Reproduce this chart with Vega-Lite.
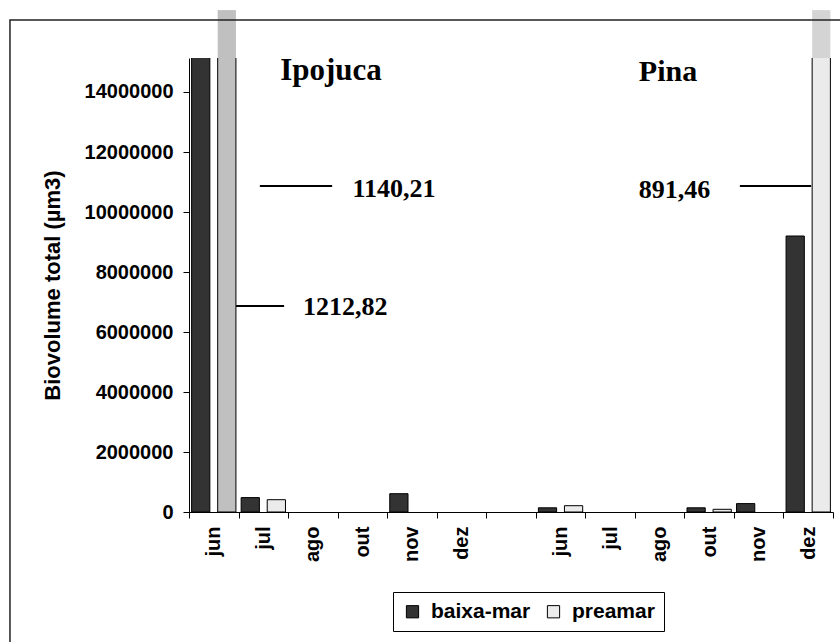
{
  "$schema": "https://vega.github.io/schema/vega-lite/v6.json",
  "width": 644,
  "height": 454,
  "autosize": {"type": "none"},
  "padding": {"left": 189, "top": 58, "right": 7, "bottom": 130},
  "background": "white",
  "config": {"view": {"stroke": null}, "font": "Liberation Sans"},
  "datasets": {
    "bars": [
      {"cat": "I-jun", "serie": "baixa-mar", "v": 1140210000},
      {"cat": "I-jun", "serie": "preamar", "v": 1212820000},
      {"cat": "I-jul", "serie": "baixa-mar", "v": 480000},
      {"cat": "I-jul", "serie": "preamar", "v": 410000},
      {"cat": "I-nov", "serie": "baixa-mar", "v": 610000},
      {"cat": "P-jun", "serie": "baixa-mar", "v": 140000},
      {"cat": "P-jun", "serie": "preamar", "v": 210000},
      {"cat": "P-out", "serie": "baixa-mar", "v": 140000},
      {"cat": "P-out", "serie": "preamar", "v": 90000},
      {"cat": "P-nov", "serie": "baixa-mar", "v": 280000},
      {"cat": "P-dez", "serie": "baixa-mar", "v": 9200000},
      {"cat": "P-dez", "serie": "preamar", "v": 891460000}
    ],
    "breaks": [
      {"cat": "I-jun", "serie": "preamar", "from": 15133333, "to": 16730000},
      {"cat": "P-dez", "serie": "preamar", "from": 15133333, "to": 16730000}
    ],
    "notes": [
      {"id": "ipo", "label": "Ipojuca", "c1": "I-jul", "ly": 14400000},
      {"id": "pina", "label": "Pina", "c1": "P-ago", "ly": 14370000},
      {"id": "n891", "label": "891,46", "c1": "P-ago", "ly": 10470000},
      {"id": "n1140", "label": "1140,21", "c1": "I-out", "ly": 10500000},
      {"id": "n1212", "label": "1212,82", "c1": "I-ago", "ly": 6570000}
    ],
    "lines": [
      {"id": "l1140", "c1": "I-jul", "c2": "I-ago", "ly": 10870000},
      {"id": "l1212", "c1": "I-jun", "c2": "I-jul", "ly": 6870000},
      {"id": "l891", "c1": "P-nov", "c2": "P-dez", "ly": 10870000}
    ],
    "frame": [
      {"fx": -0.278, "fx2": 1.03, "fy": 16400000, "fy2": -5000000}
    ]
  },
  "resolve": {"scale": {"x": "independent"}, "axis": {"x": "independent", "y": "independent"}},
  "layer": [
    {
      "layer": [
        {
          "data": {"name": "bars"},
          "mark": {"type": "bar", "stroke": "black", "strokeWidth": 1, "clip": true},
          "encoding": {
            "x": {
              "field": "cat", "type": "nominal", "sort": null,
              "scale": {"domain": ["I-jun","I-jul","I-ago","I-out","I-nov","I-dez","gap","P-jun","P-jul","P-ago","P-out","P-nov","P-dez"], "paddingInner": 0, "paddingOuter": 0},
              "axis": {
                "title": null,
                "labelExpr": "datum.label == 'gap' ? '' : slice(datum.label, 2)",
                "labelAngle": -90,
                "labelFont": "Liberation Sans",
                "labelFontWeight": "bold",
                "labelFontSize": 20,
                "labelColor": "black",
                "tickBand": "extent",
                "tickColor": "black",
                "tickSize": 6,
                "domainColor": "black",
                "labelPadding": 8,
                "grid": false
              }
            },
            "xOffset": {
              "field": "serie", "type": "nominal",
              "scale": {"domain": ["baixa-mar", "preamar"], "paddingInner": 0.3, "paddingOuter": 0.1}
            },
            "y": {
              "field": "v", "type": "quantitative",
              "scale": {"domain": [0, 15133333], "nice": false, "zero": true},
              "axis": {
                "title": "Biovolume total (µm3)",
                "values": [0, 2000000, 4000000, 6000000, 8000000, 10000000, 12000000, 14000000],
                "format": "d",
                "labelFont": "Liberation Sans",
                "labelFontWeight": "bold",
                "labelFontSize": 20,
                "labelColor": "black",
                "titleFont": "Liberation Sans",
                "titleFontWeight": "bold",
                "titleFontSize": 22,
                "titleColor": "black",
                "tickColor": "black",
                "tickSize": 6,
                "domainColor": "black",
                "labelPadding": 10,
                "titlePadding": 20,
                "grid": false
              }
            },
            "color": {
              "condition": {"test": "datum.cat === 'I-jun' && datum.serie === 'preamar'", "value": "#c0c0c0"},
              "field": "serie", "type": "nominal",
              "scale": {"domain": ["baixa-mar", "preamar"], "range": ["#333333", "#ebebeb"]},
              "legend": {
                "title": null,
                "orient": "none",
                "legendX": 204,
                "legendY": 534,
                "direction": "horizontal",
                "symbolType": "square",
                "symbolSize": 150,
                "symbolStrokeColor": "black",
                "symbolStrokeWidth": 1,
                "labelFont": "Liberation Sans",
                "labelFontSize": 21,
                "labelFontWeight": "bold",
                "labelColor": "black",
                "labelOffset": 8,
                "columnPadding": 12,
                "strokeColor": "black",
                "fillColor": "white",
                "padding": 9
              }
            }
          }
        },
        {
          "data": {"name": "breaks"},
          "mark": {"type": "bar", "clip": false},
          "encoding": {
            "x": {"field": "cat", "type": "nominal", "sort": null, "scale": {"domain": ["I-jun","I-jul","I-ago","I-out","I-nov","I-dez","gap","P-jun","P-jul","P-ago","P-out","P-nov","P-dez"]}},
            "xOffset": {"field": "serie", "type": "nominal", "scale": {"domain": ["baixa-mar", "preamar"]}},
            "y": {"field": "from", "type": "quantitative"},
            "y2": {"field": "to"},
            "fill": {"condition": {"test": "datum.cat === 'I-jun'", "value": "#c0c0c0"}, "value": "#d4d4d4"}
          }
        },
        {
          "data": {"name": "lines"},
          "transform": [{"filter": "datum.id === 'l1140'"}],
          "mark": {"type": "rule", "strokeWidth": 2, "color": "black", "clip": false},
          "encoding": {
            "x": {"field": "c1", "type": "nominal", "bandPosition": 0.43, "scale": {"domain": ["I-jun","I-jul","I-ago","I-out","I-nov","I-dez","gap","P-jun","P-jul","P-ago","P-out","P-nov","P-dez"]}},
            "x2": {"field": "c2", "bandPosition": 0.89},
            "y": {"field": "ly", "type": "quantitative"}
          }
        },
        {
          "data": {"name": "lines"},
          "transform": [{"filter": "datum.id === 'l1212'"}],
          "mark": {"type": "rule", "strokeWidth": 2, "color": "black", "clip": false},
          "encoding": {
            "x": {"field": "c1", "type": "nominal", "bandPosition": 0.95, "scale": {"domain": ["I-jun","I-jul","I-ago","I-out","I-nov","I-dez","gap","P-jun","P-jul","P-ago","P-out","P-nov","P-dez"]}},
            "x2": {"field": "c2", "bandPosition": 0.92},
            "y": {"field": "ly", "type": "quantitative"}
          }
        },
        {
          "data": {"name": "lines"},
          "transform": [{"filter": "datum.id === 'l891'"}],
          "mark": {"type": "rule", "strokeWidth": 2, "color": "black", "clip": false},
          "encoding": {
            "x": {"field": "c1", "type": "nominal", "bandPosition": 0.12, "scale": {"domain": ["I-jun","I-jul","I-ago","I-out","I-nov","I-dez","gap","P-jun","P-jul","P-ago","P-out","P-nov","P-dez"]}},
            "x2": {"field": "c2", "bandPosition": 0.56},
            "y": {"field": "ly", "type": "quantitative"}
          }
        },
        {
          "data": {"name": "notes"},
          "transform": [{"filter": "datum.id === 'ipo'"}],
          "mark": {"type": "text", "align": "left", "baseline": "alphabetic", "font": "Liberation Serif", "fontWeight": "bold", "fontSize": 31, "color": "black", "clip": false},
          "encoding": {
            "x": {"field": "c1", "type": "nominal", "bandPosition": 0.84, "scale": {"domain": ["I-jun","I-jul","I-ago","I-out","I-nov","I-dez","gap","P-jun","P-jul","P-ago","P-out","P-nov","P-dez"]}},
            "y": {"field": "ly", "type": "quantitative"},
            "text": {"field": "label"}
          }
        },
        {
          "data": {"name": "notes"},
          "transform": [{"filter": "datum.id === 'pina'"}],
          "mark": {"type": "text", "align": "left", "baseline": "alphabetic", "font": "Liberation Serif", "fontWeight": "bold", "fontSize": 30, "color": "black", "clip": false},
          "encoding": {
            "x": {"field": "c1", "type": "nominal", "bandPosition": 0.08, "scale": {"domain": ["I-jun","I-jul","I-ago","I-out","I-nov","I-dez","gap","P-jun","P-jul","P-ago","P-out","P-nov","P-dez"]}},
            "y": {"field": "ly", "type": "quantitative"},
            "text": {"field": "label"}
          }
        },
        {
          "data": {"name": "notes"},
          "transform": [{"filter": "datum.id === 'n891'"}],
          "mark": {"type": "text", "align": "left", "baseline": "alphabetic", "font": "Liberation Serif", "fontWeight": "bold", "fontSize": 26, "color": "black", "clip": false},
          "encoding": {
            "x": {"field": "c1", "type": "nominal", "bandPosition": 0.08, "scale": {"domain": ["I-jun","I-jul","I-ago","I-out","I-nov","I-dez","gap","P-jun","P-jul","P-ago","P-out","P-nov","P-dez"]}},
            "y": {"field": "ly", "type": "quantitative"},
            "text": {"field": "label"}
          }
        },
        {
          "data": {"name": "notes"},
          "transform": [{"filter": "datum.id === 'n1140' || datum.id === 'n1212'"}],
          "mark": {"type": "text", "align": "left", "baseline": "alphabetic", "font": "Liberation Serif", "fontWeight": "bold", "fontSize": 26, "color": "black", "clip": false},
          "encoding": {
            "x": {"field": "c1", "type": "nominal", "bandPosition": 0.3, "scale": {"domain": ["I-jun","I-jul","I-ago","I-out","I-nov","I-dez","gap","P-jun","P-jul","P-ago","P-out","P-nov","P-dez"]}},
            "y": {"field": "ly", "type": "quantitative"},
            "text": {"field": "label"}
          }
        }
      ]
    },
    {
      "data": {"name": "frame"},
      "mark": {"type": "rect", "fill": null, "fillOpacity": 0, "stroke": "#222222", "strokeWidth": 1.5, "clip": false},
      "encoding": {
        "x": {"field": "fx", "type": "quantitative", "scale": {"domain": [0, 1], "nice": false, "zero": false}, "axis": null},
        "x2": {"field": "fx2"},
        "y": {"field": "fy", "type": "quantitative", "axis": null},
        "y2": {"field": "fy2"}
      }
    }
  ]
}
